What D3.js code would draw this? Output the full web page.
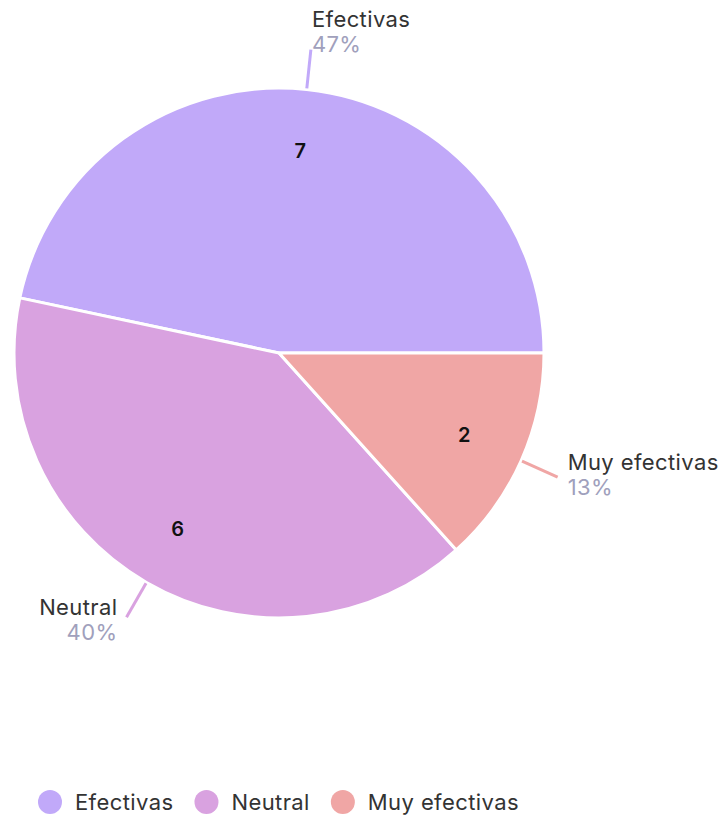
<!DOCTYPE html>
<html>
<head>
<meta charset="utf-8">
<script src="https://cdn.jsdelivr.net/npm/d3@7/dist/d3.min.js"></script>
<style>
  html, body { margin: 0; padding: 0; background: #fff; }
  svg { display: block; font-family: Inter, "Open Sans", sans-serif; }
</style>
</head>
<body>
<svg id="chart" width="724" height="818"></svg>
<script>
// Survey answers and their counts
const categories = ["Efectivas", "Neutral", "Muy efectivas"];
const counts = [7, 6, 2];
const colors = ["#c1a9f9", "#d9a2e0", "#f0a6a5"];

const W = 724, H = 818;
const cx = 279, cy = 353, R = 265;

const data = categories.map((c, i) => ({ label: c, value: counts[i], color: colors[i] }));
const total = d3.sum(counts);

const svg = d3.select("#chart");
const g = svg.append("g").attr("transform", `translate(${cx},${cy})`);

// Slices run counter-clockwise from three o'clock
const pie = d3.pie()
  .sort(null)
  .value(d => d.value)
  .startAngle(Math.PI / 2)
  .endAngle(Math.PI / 2 - 2 * Math.PI);

const arcs = pie(data);
const arc = d3.arc().innerRadius(0).outerRadius(R);

g.selectAll("path.slice")
  .data(arcs)
  .join("path")
  .attr("class", "slice")
  .attr("d", arc)
  .attr("fill", d => d.data.color)
  .attr("stroke", "#fff")
  .attr("stroke-width", 3)
  .attr("stroke-linejoin", "round");

// Counts inside the slices
const inner = d3.arc().innerRadius(R * 0.765).outerRadius(R * 0.765);
g.selectAll("text.count")
  .data(arcs)
  .join("text")
  .attr("class", "count")
  .attr("transform", d => `translate(${inner.centroid(d)})`)
  .attr("text-anchor", "middle")
  .attr("dy", "0.35em")
  .attr("font-size", 20)
  .attr("font-weight", 600)
  .attr("fill", "#111")
  .text(d => d.data.value);

// Leader lines and outside labels
const mid = d => (d.startAngle + d.endAngle) / 2;
const pt = (a, r) => [r * Math.sin(a), -r * Math.cos(a)];

g.selectAll("line.leader")
  .data(arcs)
  .join("line")
  .attr("class", "leader")
  .attr("x1", d => pt(mid(d), R + 1)[0])
  .attr("y1", d => pt(mid(d), R + 1)[1])
  .attr("x2", d => pt(mid(d), R + 40)[0])
  .attr("y2", d => pt(mid(d), R + 40)[1])
  .attr("stroke", d => d.data.color)
  .attr("stroke-width", 3);

const lab = g.selectAll("g.outer")
  .data(arcs)
  .join("g")
  .attr("class", "outer")
  .attr("transform", d => {
    const a = mid(d);
    const [x, y] = pt(a, R + 40);
    const s = Math.sin(a);
    const dx = s > 0.3 ? 10 : (s < -0.3 ? -9 : 1);
    return `translate(${x + dx},${y - 12 - 11 * Math.cos(a)})`;
  })
  .attr("text-anchor", d => Math.sin(mid(d)) < -0.3 ? "end" : "start");

lab.append("text")
  .attr("font-size", 22)
  .attr("letter-spacing", 0.4)
  .attr("fill", "#333")
  .text(d => d.data.label);

lab.append("text")
  .attr("y", 25)
  .attr("font-size", 22)
  .attr("letter-spacing", 0.4)
  .attr("fill", "#a0a0bc")
  .text(d => Math.round(d.data.value / total * 100) + "%");

// Legend along the bottom
const legend = svg.append("g").attr("transform", "translate(0,802)");
let x = 38;
data.forEach(d => {
  const item = legend.append("g").attr("transform", `translate(${x},0)`);
  item.append("circle").attr("cx", 12).attr("cy", 0).attr("r", 12).attr("fill", d.color);
  const t = item.append("text")
    .attr("x", 37)
    .attr("dy", "0.35em")
    .attr("font-size", 22)
    .attr("letter-spacing", 0.4)
    .attr("fill", "#333")
    .text(d.label);
  x += 37 + t.node().getComputedTextLength() + 21;
});
</script>
</body>
</html>
